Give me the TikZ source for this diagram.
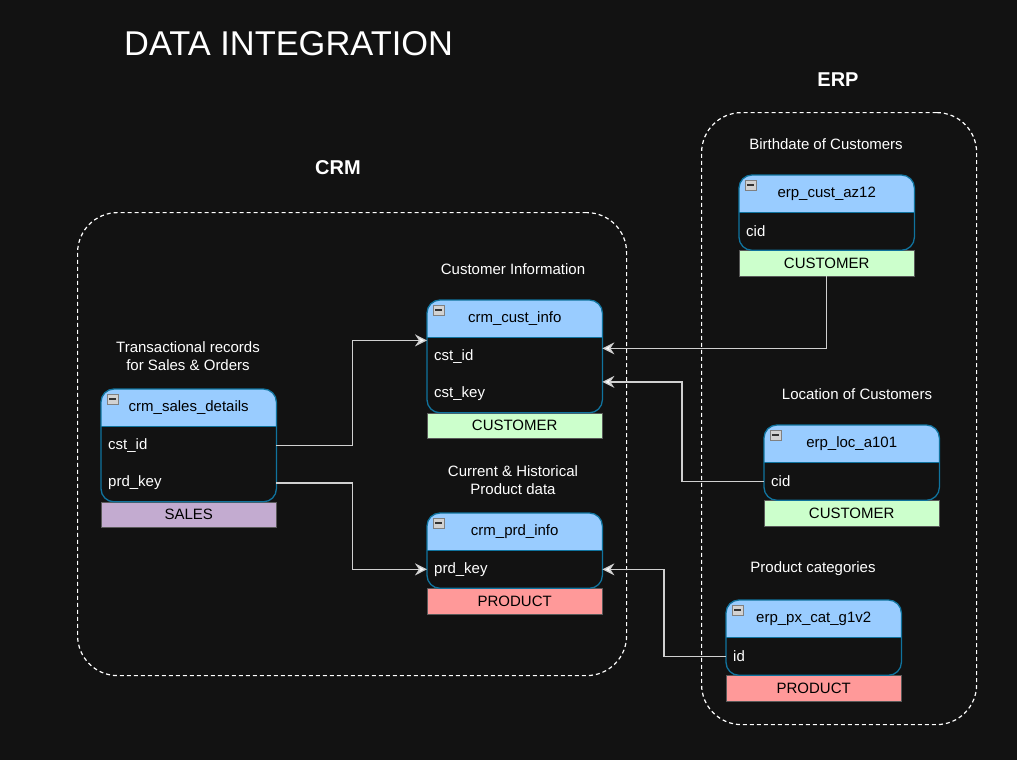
\documentclass[tikz,border=0pt]{standalone}
\usepackage{fontspec}
\setmainfont{Liberation Sans}
\usetikzlibrary{positioning}
\usetikzlibrary{arrows.meta}
\definecolor{pagedark}{HTML}{121212}
\definecolor{headblue}{HTML}{99CCFF}
\definecolor{edgeblue}{HTML}{10739E}
\definecolor{tagmint}{HTML}{CCFFCC}
\definecolor{tagrose}{HTML}{FF9999}
\definecolor{taglilac}{HTML}{C3ABD0}
\definecolor{wiregray}{HTML}{D0D0D0}
\pgfdeclarelayer{back}
\pgfdeclarelayer{bg}
\pgfsetlayers{back,bg,main}
\tikzset{
    every node/.style={
        text=white,
        font=\fontsize{15}{18}\selectfont},
    tblhead/.style={
        anchor=north west,
        inner sep=0pt,
        minimum width=175pt,
        minimum height=37pt,
        text=black},
    tblrow/.style={
        anchor=north west,
        inner xsep=7pt,
        inner ysep=0pt,
        text width=161pt,
        align=left,
        minimum height=37.5pt},
    tbltag/.style={
        anchor=north west,
        fill=#1,
        draw=gray!70!black,
        inner sep=0pt,
        minimum width=175pt,
        minimum height=25.5pt,
        text=black},
    tblline/.style={
        draw=edgeblue,
        line width=1.3pt},
    container/.style={
        draw=white,
        line width=1.2pt,
        dash pattern=on 4pt off 3pt,
        rounded corners=40pt,
        anchor=north west,
        inner sep=0pt},
    caption/.style={
        align=center},
    wire/.style={
        draw=wiregray,
        line width=1.3pt,
        -{Stealth[length=12pt,width=12pt,inset=4pt,fill=white]}}}

% table: name, top left, title, rows, tag text, tag colour
\newcommand{\dbtable}[6]{%
    \node[tblhead] (#1-h) at #2 {#3};
    \foreach \row [count=\i] in {#4} {
        \node[tblrow] (#1-\i) at ([yshift={-37.5*(\i-1)*1pt}]#1-h.south west) {\row};
        \xdef\lastrow{\i}
    }
    \node[tbltag=#6] (#1-tag) at (#1-\lastrow.south west) {#5};
    \begin{pgfonlayer}{bg}
        \begin{scope}
            \clip[rounded corners=13pt] (#1-h.north west) rectangle (#1-\lastrow.south east);
            \fill[headblue] (#1-h.north west) rectangle (#1-h.south east);
        \end{scope}
    \end{pgfonlayer}
    \draw[tblline] (#1-h.south west) -- (#1-h.south east);
    \draw[tblline, rounded corners=13pt] (#1-h.north west) rectangle (#1-\lastrow.south east);
    \draw[gray, fill=gray!35] ([shift={(6pt,-5pt)}]#1-h.north west) rectangle ++(11pt,-10pt);
    \draw[black!80, line width=1.2pt] ([shift={(8pt,-10pt)}]#1-h.north west) -- ++(7pt,0pt);
}

\begin{document}
\begin{tikzpicture}[x=1pt,y=-1pt]
    \begin{pgfonlayer}{back}
        \fill[pagedark] (0,0) rectangle (1017,760);
    \end{pgfonlayer}
    \useasboundingbox (0,0) rectangle (1017,760);

    \node[anchor=west, inner sep=0pt, font=\fontsize{34.4}{38}\selectfont] (title) at (124,44) {DATA INTEGRATION};

    \node[container, minimum width=549pt, minimum height=463pt] (crm) at (77,212) {};
    \node[container, minimum width=275pt, minimum height=612pt] (erp) at (701,112) {};
    \node[font=\bfseries\fontsize{20}{24}\selectfont] (crmlabel) at (338,168) {CRM};
    \node[font=\bfseries\fontsize{20}{24}\selectfont] (erplabel) at (838,80) {ERP};

    \node[caption] (salescap) at (188,356) {Transactional records\\for Sales \& Orders};
    \node[caption] (custcap) at (513,269) {Customer Information};
    \node[caption] (prdcap) at (513,480) {Current \& Historical\\Product data};
    \node[caption] (az12cap) at (826,144) {Birthdate of Customers};
    \node[caption] (loccap) at (857,394) {Location of Customers};
    \node[caption] (pxcatcap) at (813,569) {Product categories};

    \dbtable{sales}{(101,389)}{crm\_sales\_details}{cst\_id,prd\_key}{SALES}{taglilac}
    \dbtable{cust}{(427,300)}{crm\_cust\_info}{cst\_id,cst\_key}{CUSTOMER}{tagmint}
    \dbtable{prd}{(427,513)}{crm\_prd\_info}{prd\_key}{PRODUCT}{tagrose}
    \dbtable{az12}{(739,175)}{erp\_cust\_az12}{cid}{CUSTOMER}{tagmint}
    \dbtable{loc}{(764,425)}{erp\_loc\_a101}{cid}{CUSTOMER}{tagmint}
    \dbtable{pxcat}{(726,600)}{erp\_px\_cat\_g1v2}{id}{PRODUCT}{tagrose}

    \draw[wire] (sales-1.east) -- ++(76,0) |- ([yshift=-3pt]cust-h.south west);
    \draw[wire] (sales-2.east) -- ++(76,0) |- (prd-1.west);
    \draw[wire] (az12-tag.south) |- ([yshift=8pt]cust-1.east);
    \draw[wire] (loc-1.west) -- ++(-82,0) |- ([yshift=12pt]cust-2.east);
    \draw[wire] (pxcat-1.west) -- ++(-62,0) |- (prd-1.east);
\end{tikzpicture}
\end{document}
